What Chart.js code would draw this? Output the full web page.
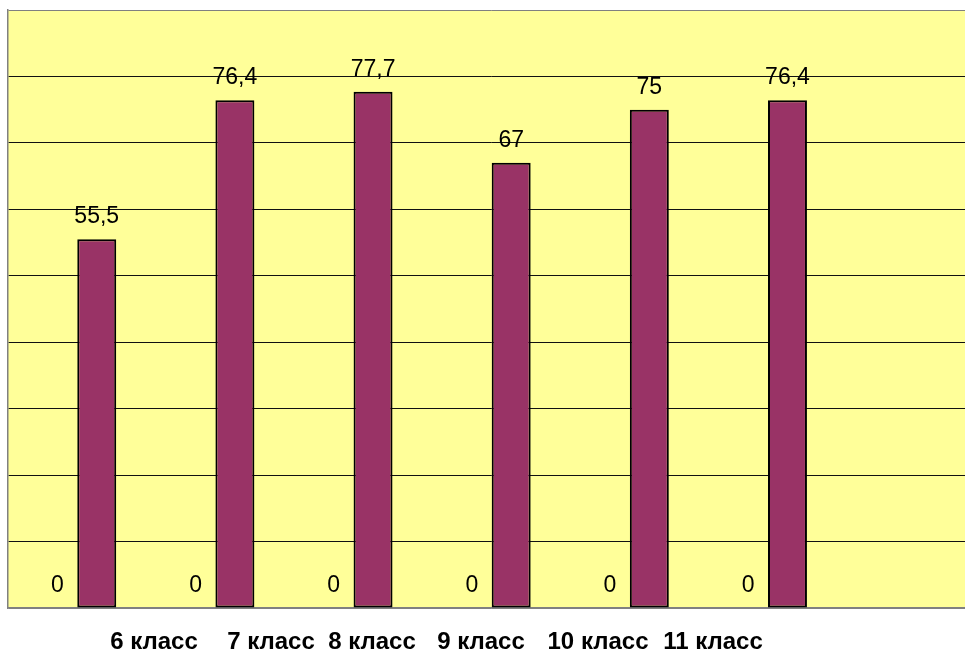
<!DOCTYPE html>
<html lang="ru">
<head>
    <meta charset="UTF-8">
    <title>Результаты по классам</title>
    <script src="https://cdn.jsdelivr.net/npm/chart.js"></script>
    <style>
        html, body { margin: 0; padding: 0; background: #fff; overflow: hidden; }
        #wrap { width: 980px; height: 655px; }
    </style>
</head>
<body>
    <div id="wrap"><canvas id="chart" width="980" height="655"></canvas></div>

    <script>
        // data
        const categories = ['6 класс', '7 класс', '8 класс', '9 класс', '10 класс', '11 класс'];
        const seriesA = [0, 0, 0, 0, 0, 0];
        const seriesB = [55.5, 76.4, 77.7, 67, 75, 76.4];
        const yTicks = [0, 10, 20, 30, 40, 50, 60, 70, 80, 90];

        // x centres of the category captions under the plot (layout only)
        const captionCenters = [154, 271, 372, 481, 598, 713];

        const plotBackground = {
            id: 'plotBackground',
            beforeDraw(chart) {
                const { ctx, chartArea: a } = chart;
                ctx.save();
                ctx.fillStyle = '#ffff99';
                ctx.fillRect(a.left, a.top, a.right - a.left, a.bottom - a.top);
                ctx.restore();
            }
        };

        const valueLabels = {
            id: 'valueLabels',
            afterDatasetsDraw(chart) {
                const ctx = chart.ctx;
                ctx.save();
                ctx.font = '23px "Liberation Sans", Arial, sans-serif';
                ctx.fillStyle = '#000';
                ctx.textAlign = 'center';
                ctx.textBaseline = 'alphabetic';
                chart.data.datasets.forEach((ds, i) => {
                    chart.getDatasetMeta(i).data.forEach((bar, j) => {
                        const v = ds.data[j];
                        if (v === undefined || v === null) return;
                        ctx.fillText(String(v).replace('.', ','), bar.x, bar.y - 16);
                    });
                });
                ctx.restore();
            }
        };

        const captions = {
            id: 'captions',
            afterDraw(chart) {
                const ctx = chart.ctx;
                ctx.save();
                ctx.font = 'bold 24px "Liberation Sans", Arial, sans-serif';
                ctx.fillStyle = '#000';
                ctx.textAlign = 'center';
                ctx.textBaseline = 'alphabetic';
                categories.forEach((c, i) => ctx.fillText(c, captionCenters[i], 649));
                ctx.restore();
            }
        };

        new Chart(document.getElementById('chart'), {
            type: 'bar',
            data: {
                labels: [...categories, ''],
                datasets: [{
                    data: seriesA,
                    backgroundColor: '#3366cc',
                    borderWidth: 0
                }, {
                    data: seriesB,
                    backgroundColor: '#993366',
                    borderColor: '#000',
                    borderWidth: 2,
                    borderSkipped: false
                }]
            },
            options: {
                responsive: false,
                animation: false,
                devicePixelRatio: 1,
                layout: { padding: { left: 8, top: 10, right: 5, bottom: 39 } },
                plugins: {
                    legend: { display: false },
                    tooltip: { enabled: false }
                },
                datasets: {
                    bar: { categoryPercentage: 0.57, barPercentage: 0.99 }
                },
                scales: {
                    x: {
                        grid: { display: false },
                        ticks: { display: false },
                        border: { color: '#808080', width: 1.5 }
                    },
                    y: {
                        min: 0,
                        max: 90,
                        afterBuildTicks(axis) {
                            axis.ticks = yTicks.map(v => ({ value: v }));
                        },
                        ticks: { display: false },
                        grid: {
                            drawTicks: false,
                            lineWidth: 1,
                            color: ctx => (ctx.tick && (ctx.tick.value === 90 || ctx.tick.value === 0)) ? '#808080' : '#111'
                        },
                        border: { color: '#808080', width: 1.5 }
                    }
                }
            },
            plugins: [plotBackground, valueLabels, captions]
        });
    </script>
</body>
</html>
